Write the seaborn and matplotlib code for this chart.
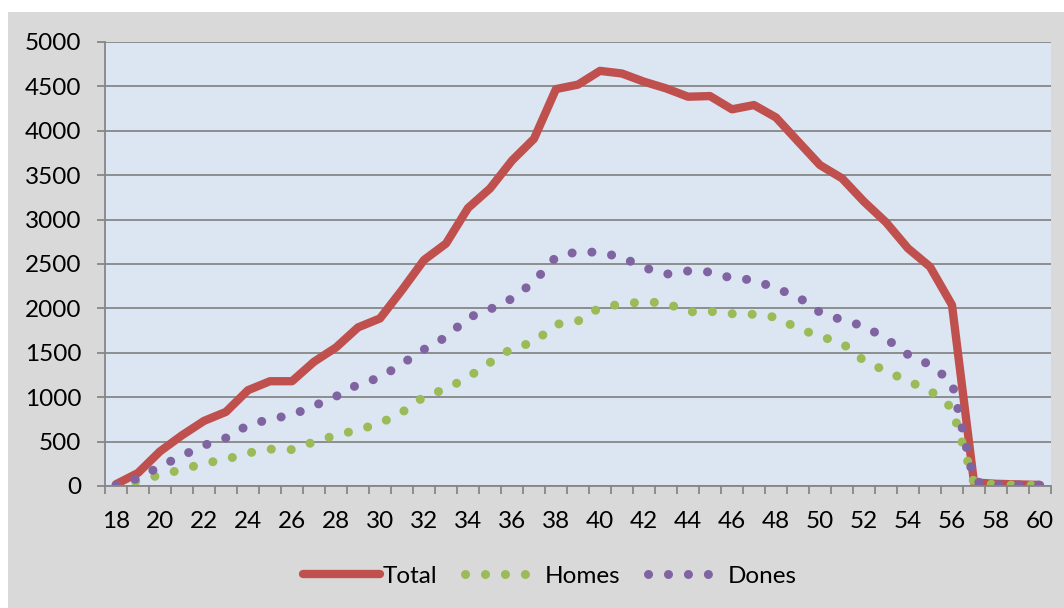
import matplotlib
matplotlib.use("Agg")
import matplotlib.pyplot as plt
from matplotlib.patches import Rectangle
from matplotlib.ticker import FixedLocator
import seaborn as sns

ages = list(range(18, 61))
total = [20, 147, 390, 571, 733, 835, 1079, 1180, 1180, 1399,
         1560, 1786, 1887, 2207, 2545, 2730, 3130, 3350, 3665, 3910,
         4470, 4520, 4675, 4645, 4553, 4478, 4384, 4391, 4242, 4290,
         4150, 3881, 3614, 3465, 3202, 2970, 2676, 2469, 2038, 40,
         25, 18, 12]
homes = [5, 55, 125, 185, 255, 300, 372, 415, 410, 497,
         572, 632, 706, 830, 1005, 1094, 1225, 1391, 1550, 1620,
         1820, 1858, 2010, 2050, 2075, 2060, 1960, 1967, 1940, 1933,
         1900, 1775, 1685, 1610, 1410, 1295, 1180, 1075, 880, 35,
         15, 10, 8]
dones = [10, 87, 220, 341, 458, 541, 685, 753, 801, 902,
         1009, 1144, 1221, 1376, 1538, 1677, 1895, 1990, 2110, 2300,
         2580, 2640, 2630, 2575, 2460, 2385, 2421, 2410, 2340, 2320,
         2225, 2130, 1955, 1870, 1800, 1660, 1480, 1365, 1170, 50,
         15, 12, 10]
series_names = ["Total", "Homes", "Dones"]
yticks = [0, 500, 1000, 1500, 2000, 2500, 3000, 3500, 4000, 4500, 5000]
xticks = list(range(18, 61, 2))

sns.set_style("white")
plt.rcParams['font.family'] = ['Lato', 'DejaVu Sans']
FS = 17.5

GRID = '#868686'
fig = plt.figure(figsize=(10.64, 6.08), dpi=100, facecolor='white')
fig.patches.append(Rectangle((8 / 1064, 0), 1 - 8 / 1064, 1 - 12 / 608,
                             transform=fig.transFigure, facecolor='#d9d9d9',
                             edgecolor='none', zorder=-10))
ax = fig.add_axes([105 / 1064, 1 - 486 / 608, (1051 - 105) / 1064, (486 - 42) / 608])
ax.set_facecolor('#dce6f2')

DOT = (0, (0.01, 2.2))
sns.lineplot(x=ages, y=total, ax=ax, color='#c0504d', linewidth=6,
             solid_capstyle='round', solid_joinstyle='round', label=series_names[0])
sns.lineplot(x=ages, y=homes, ax=ax, color='#9bbb59', linewidth=6.5,
             linestyle=DOT, dash_capstyle='round', label=series_names[1])
sns.lineplot(x=ages, y=dones, ax=ax, color='#8064a2', linewidth=6.5,
             linestyle=DOT, dash_capstyle='round', label=series_names[2])

ax.set_xlim(17.5, 60.5)
ax.set_ylim(0, 5000)
ax.set_yticks(yticks)
ax.set_xticks(xticks)
ax.xaxis.set_minor_locator(FixedLocator([a - 0.5 for a in ages] + [60.5]))
ax.grid(axis='y', color=GRID, linewidth=1.3)
ax.set_axisbelow(True)
ax.tick_params(axis='y', which='major', length=6, width=1.3, color=GRID,
               labelsize=FS, labelcolor='black', pad=11, left=True)
ax.tick_params(axis='x', which='major', length=0, labelsize=FS, labelcolor='black',
               pad=18, bottom=True)
ax.tick_params(axis='x', which='minor', length=5.5, width=1.3, color=GRID, bottom=True)
for s in ['right', 'top']:
    ax.spines[s].set_visible(False)
for s in ['left', 'bottom']:
    ax.spines[s].set_color(GRID)
    ax.spines[s].set_linewidth(1.3)
ax.set_xlabel('')
ax.set_ylabel('')

handles, labels = ax.get_legend_handles_labels()
ax.get_legend().remove()
leg = fig.legend(handles, labels, loc='center', bbox_to_anchor=(550 / 1064, 1 - 576 / 608),
                 ncol=3, frameon=False, fontsize=FS, handlelength=3.15,
                 handletextpad=0.12, columnspacing=1.15)
for t in leg.get_texts():
    t.set_color('black')

fig.savefig('out.png', dpi=100, facecolor='white')
